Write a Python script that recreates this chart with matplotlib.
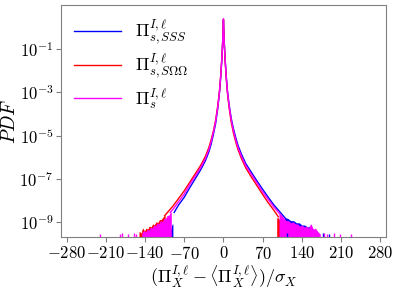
import numpy as np
import matplotlib
matplotlib.use("Agg")
import matplotlib.pyplot as plt

plt.rcParams['mathtext.fontset'] = 'cm'
plt.rcParams['font.family'] = 'serif'
plt.rcParams['font.serif'] = ['cmr10']
plt.rcParams['axes.formatter.use_mathtext'] = True

# main curves: x in units of sigma, log10(PDF)
x_sss = [-88, -80, -70, -60, -50, -40, -32, -26, -22, -18, -14, -10, -7, -5, -3, -2, -1, 0,
         1, 2, 3, 5, 7, 10, 14, 18, 22, 26, 32, 40, 50, 60, 70, 80, 90, 100, 110]
lp_sss = [-8.55, -8.2, -7.85, -7.4, -6.98, -6.55, -6.15, -5.75, -5.4, -4.95, -4.45, -3.72, -3.0,
          -2.35, -1.55, -1.05, -0.5, 0.35, -0.43, -0.98, -1.45, -2.25, -2.9, -3.55, -4.22, -4.7,
          -5.1, -5.45, -5.85, -6.3, -6.7, -7.1, -7.48, -7.85, -8.2, -8.5, -8.8]

x_soo = [-105, -100, -90, -80, -70, -60, -50, -40, -32, -26, -22, -18, -14, -10, -7, -5, -3, -2,
         -1, 0, 1, 2, 3, 5, 7, 10, 14, 18, 22, 26, 32, 40, 50, 60, 70, 80, 90, 98]
lp_soo = [-8.7, -8.55, -8.25, -7.9, -7.55, -7.15, -6.75, -6.35, -5.95, -5.55, -5.2, -4.8, -4.3,
          -3.6, -2.92, -2.28, -1.5, -1.0, -0.45, 0.37, -0.47, -1.02, -1.55, -2.35, -3.0, -3.7,
          -4.4, -4.9, -5.3, -5.65, -6.05, -6.5, -6.92, -7.32, -7.72, -8.1, -8.45, -8.75]

x_s = [-95, -90, -80, -70, -60, -50, -40, -32, -26, -22, -18, -14, -10, -7, -5, -3, -2, -1, 0,
       1, 2, 3, 5, 7, 10, 14, 18, 22, 26, 32, 40, 50, 60, 70, 80, 90, 100, 108]
lp_s = [-8.55, -8.4, -8.05, -7.7, -7.25, -6.85, -6.45, -6.05, -5.65, -5.3, -4.85, -4.35, -3.65,
        -2.95, -2.3, -1.5, -1.0, -0.45, 0.39, -0.45, -1.0, -1.5, -2.3, -2.95, -3.6, -4.3, -4.8,
        -5.2, -5.55, -5.95, -6.4, -6.8, -7.2, -7.6, -7.95, -8.3, -8.6, -8.85]

# noisy tail bands (jagged upper edge, log10 PDF)
band_soo_l_x = [-150, -147, -144, -141, -138, -135, -132, -129, -126, -123, -120, -117, -114, -111, -108, -105]
band_soo_l_y = [-9.45, -9.55, -9.3, -9.45, -9.3, -9.35, -9.2, -9.25, -9.1, -9.15, -9.0, -9.05, -8.9, -8.9, -8.8, -8.7]
band_soo_r_x = [96, 100, 106, 112, 118, 124, 130, 136]
band_soo_r_y = [-8.8, -8.9, -9.0, -9.1, -9.2, -9.3, -9.4, -9.5]

band_s_l_x = [-145, -142, -139, -136, -133, -130, -127, -124, -121, -118, -115, -112, -109, -106, -103, -100, -97, -94]
band_s_l_y = [-9.5, -9.4, -9.5, -9.35, -9.4, -9.25, -9.3, -9.15, -9.2, -9.05, -9.1, -8.95, -9.0, -8.85, -8.85, -8.7, -8.7, -8.55]
band_s_r_x = [100, 104, 108, 112, 116, 120, 124, 128, 132, 136, 140, 144, 148, 152, 156, 160, 164, 168, 172]
band_s_r_y = [-8.65, -8.75, -8.85, -8.95, -8.95, -9.05, -9.0, -9.1, -9.1, -9.2, -9.15, -9.25, -9.2, -9.3, -9.1, -9.35, -9.3, -9.45, -9.55]

band_sss_l_x = [-95, -93, -91]
band_sss_l_y = [-9.5, -9.3, -9.1]
band_sss_r_x = [110, 115, 120, 125, 130, 135, 140, 145, 150, 155, 160, 165]
band_sss_r_y = [-8.8, -8.85, -8.95, -8.95, -9.05, -9.05, -9.15, -9.15, -9.25, -9.2, -9.35, -9.45]

# isolated single-count spikes
spk_s_x = [-221, -185, -181, -171, -160, -157, 180, 185, 197, 209, 228]
spk_s_y = [-9.55, -9.55, -9.5, -9.55, -9.5, -9.55, -9.5, -9.55, -9.5, -9.55, -9.55]
spk_sss_x = [113, 178, 189]
spk_sss_y = [-9.5, -9.5, -9.55]

labels = [r'$\Pi^{I,\ell}_{s,SSS}$', r'$\Pi^{I,\ell}_{s,S\Omega\Omega}$', r'$\Pi^{I,\ell}_{s}$']
colors = ['blue', 'red', 'magenta']
floor = 10 ** -9.68

fig = plt.figure(figsize=(3.99, 2.9), dpi=100)
ax = fig.add_axes([0.153, 0.183, 0.814, 0.8])

series = [
    (x_sss, lp_sss, [(band_sss_l_x, band_sss_l_y), (band_sss_r_x, band_sss_r_y)], (spk_sss_x, spk_sss_y)),
    (x_soo, lp_soo, [(band_soo_l_x, band_soo_l_y), (band_soo_r_x, band_soo_r_y)], ([], [])),
    (x_s, lp_s, [(band_s_l_x, band_s_l_y), (band_s_r_x, band_s_r_y)], (spk_s_x, spk_s_y)),
]

for (xs, lp, bands, spk), lab, c in zip(series, labels, colors):
    ax.plot(xs, 10 ** np.array(lp), color=c, lw=1, label=lab)
    for bx, by in bands:
        ax.fill_between(bx, floor, 10 ** np.array(by), color=c, lw=0.6, edgecolor=c)
    if len(spk[0]):
        ax.vlines(spk[0], floor, 10 ** np.array(spk[1]), color=c, lw=1)

ax.set_yscale('log')
ax.set_xlim(-290, 290)
ax.set_ylim(floor, 10 ** 1.03)
ax.set_xticks(np.arange(-280, 281, 70))
ax.set_yticks([1e-1, 1e-3, 1e-5, 1e-7, 1e-9])
ax.minorticks_off()
ax.tick_params(labelsize=12, color='gray', length=3.5, pad=2)
for sp in ax.spines.values():
    sp.set_color('gray')
ax.set_xlabel(r'$(\Pi_X^{I,\ell} - \langle \Pi_X^{I,\ell} \rangle)/\sigma_X$', fontsize=13, labelpad=1)
ax.set_ylabel(r'$PDF$', fontsize=14)
ax.yaxis.set_label_coords(-0.128, 0.5)
ax.legend(loc='upper left', frameon=False, fontsize=13, handlelength=2.6,
          borderaxespad=0.3, labelspacing=0.3)

fig.savefig('out.png', dpi=100)
